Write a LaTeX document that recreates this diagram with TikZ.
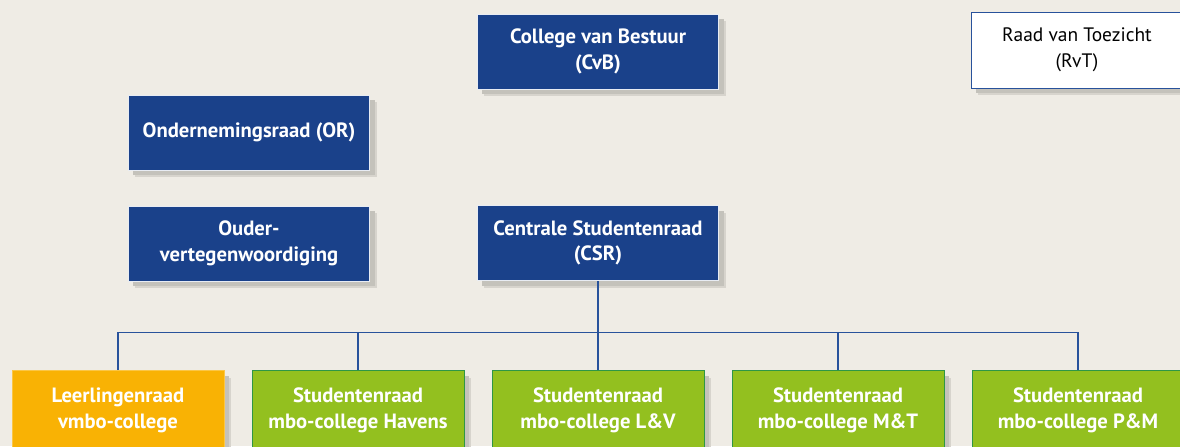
\documentclass[tikz,border=0pt]{standalone}
\usepackage{fontspec}
\setmainfont{PT Sans}
\usepackage{xcolor}
\usepackage{tikz}
\usetikzlibrary{positioning, shadows}
\definecolor{raadblue}{RGB}{26,65,138}
\definecolor{raadgreen}{RGB}{147,192,31}
\definecolor{greenline}{RGB}{46,150,70}
\definecolor{raadorange}{RGB}{249,178,4}
\definecolor{orangeline}{RGB}{251,198,70}
\definecolor{paper}{RGB}{239,236,229}
\definecolor{linkblue}{RGB}{40,82,155}
\definecolor{shadowdark}{RGB}{196,194,187}
\definecolor{shadowlight}{RGB}{215,212,205}

\begin{document}
\begin{tikzpicture}[x=0.75pt, y=-0.75pt,
    box/.style={rectangle, align=center, line width=0.75pt, inner sep=2pt,
        font=\fontsize{15.5}{19.2}\selectfont\bfseries, text=white,
        drop shadow={shadow xshift=5.25pt, shadow yshift=-5.25pt, fill=shadowlight, opacity=1},
        drop shadow={shadow xshift=3.75pt, shadow yshift=-3.75pt, fill=shadowdark, opacity=1}},
    bluebox/.style={box, fill=raadblue, draw=white!90!raadblue,
        minimum width=181pt, minimum height=56.25pt},
    rvtbox/.style={box, fill=white, draw=linkblue, text=black,
        font=\fontsize{14.6}{19.2}\selectfont,
        minimum width=159pt, minimum height=57pt},
    greenbox/.style={box, fill=raadgreen, draw=greenline,
        minimum width=159pt, minimum height=60pt},
    orangebox/.style={box, fill=raadorange, draw=orangeline,
        minimum width=159pt, minimum height=60pt},
    link/.style={draw=linkblue, line width=0.9pt}]

    % Background and frame
    \useasboundingbox (0,0) rectangle (1180,446);
    \fill[paper] (0,0) rectangle (1180,446);
    \clip (0,0) rectangle (1180,446);

    % Top boxes
    \node[bluebox] (cvb) at (598,51.5) {College van Bestuur\\(CvB)};
    \node[rvtbox] (rvt) at (1077,50) {Raad van Toezicht\\(RvT)};
    \node[bluebox] (or) at (249,132.5) {Ondernemingsraad (OR)};
    \node[bluebox] (ouder) at (249,243.5) {Ouder-\\vertegenwoordiging};
    \node[bluebox] (csr) at (598,243) {Centrale Studentenraad\\(CSR)};

    % Bottom row
    \node[orangebox] (leer) at (118,410.5) {Leerlingenraad\\vmbo-college};
    \node[greenbox] (havens) at (358,410.5) {Studentenraad\\mbo-college Havens};
    \node[greenbox] (lv) at (598,410.5) {Studentenraad\\mbo-college L\&V};
    \node[greenbox] (mt) at (838,410.5) {Studentenraad\\mbo-college M\&T};
    \node[greenbox] (pm) at (1078,410.5) {Studentenraad\\mbo-college P\&M};

    % Connectors
    \coordinate (bus) at (0,332.5);
    \draw[link] (csr.south) -- (csr.south |- bus);
    \draw[link] (leer.north) -- (leer.north |- bus) -- (pm.north |- bus) -- (pm.north);
    \draw[link] (havens.north) -- (havens.north |- bus);
    \draw[link] (lv.north) -- (lv.north |- bus);
    \draw[link] (mt.north) -- (mt.north |- bus);
\end{tikzpicture}
\end{document}
